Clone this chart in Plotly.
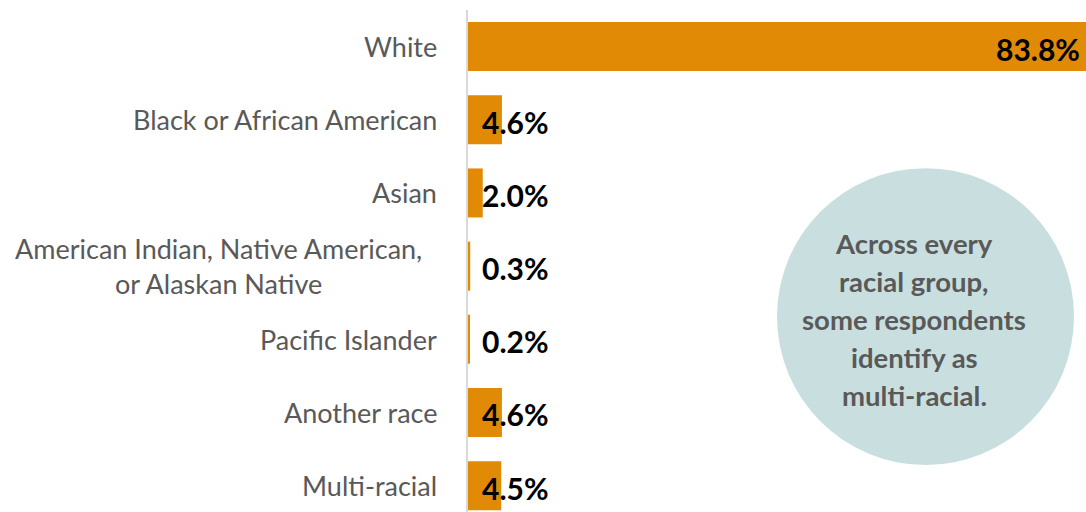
import plotly.graph_objects as go

# Survey respondents by race (share of respondents, %)
categories = [
    "White",
    "Black or African American",
    "Asian",
    "American Indian, Native American,<br>or Alaskan Native",
    "Pacific Islander",
    "Another race",
    "Multi-racial",
]
shares = [83.8, 4.6, 2.0, 0.3, 0.2, 4.6, 4.5]

callout_lines = [
    "Across every",
    "racial group,",
    "some respondents",
    "identify as",
    "multi-racial.",
]

BAR_COLOR = "#E08A06"
LABEL_GRAY = "#595959"
FONT = "Lato"
SMALL_LABEL_X = 2.0  # value labels of short bars start here

W, H = 1086, 512
ML, MR, MT, MB = 468, 0, 10, 0
PLOT_H = H - MT - MB

y_idx = list(range(len(categories)))

fig = go.Figure(
    go.Bar(
        x=shares,
        y=y_idx,
        orientation="h",
        marker=dict(color=BAR_COLOR, line=dict(width=0)),
        width=0.67,
        hoverinfo="skip",
    )
)

annotations = []
# category labels to the left of the axis
for i, cat in enumerate(categories):
    multi = "<br>" in cat
    annotations.append(dict(
        x=0, xref="paper", y=i, yref="y",
        text=cat, showarrow=False,
        xanchor="right", yanchor="middle",
        align="center" if multi else "right",
        xshift=-44 if multi else -29,
        font=dict(family=FONT, size=27, color=LABEL_GRAY),
    ))

# value labels
for i, v in enumerate(shares):
    txt = f"<b>{v:.1f}%</b>"
    if v > 40:
        annotations.append(dict(
            x=v, xref="x", y=i, yref="y", text=txt, showarrow=False,
            xanchor="right", yanchor="middle", xshift=-4, yshift=-2,
            font=dict(family=FONT, size=30, color="black"),
        ))
    else:
        annotations.append(dict(
            x=SMALL_LABEL_X, xref="x", y=i, yref="y", text=txt, showarrow=False,
            xanchor="left", yanchor="middle", xshift=-3, yshift=-2,
            font=dict(family=FONT, size=30, color="black"),
        ))

# callout text inside the circle, one line at a time
circle_cx, circle_cy = 0.7218, 0.3896
line_step = 38 / PLOT_H
n = len(callout_lines)
for k, line in enumerate(callout_lines):
    annotations.append(dict(
        x=circle_cx, xref="paper",
        y=circle_cy - 0.006 + ((n - 1) / 2 - k) * line_step, yref="paper",
        text=f"<b>{line}</b>", showarrow=False,
        xanchor="center", yanchor="middle",
        font=dict(family=FONT, size=27.5, color=LABEL_GRAY),
    ))

fig.update_layout(
    width=W, height=H,
    margin=dict(l=ML, r=MR, t=MT, b=MB, pad=0),
    plot_bgcolor="white", paper_bgcolor="white",
    showlegend=False,
    xaxis=dict(range=[0, 83.8], showgrid=False, zeroline=False,
               showticklabels=False, showline=False, fixedrange=True),
    yaxis=dict(range=[6.36, -0.5], showgrid=False, zeroline=False,
               showticklabels=False, showline=True, linecolor="#D9D9D9",
               linewidth=2, fixedrange=True),
    annotations=annotations,
    shapes=[dict(
        type="circle", xref="paper", yref="paper",
        x0=0.5, x1=0.9806, y0=0.0936, y1=0.685,
        fillcolor="#C9DFDF", line=dict(width=0), layer="below",
    )],
)

fig.write_html("out.html")
